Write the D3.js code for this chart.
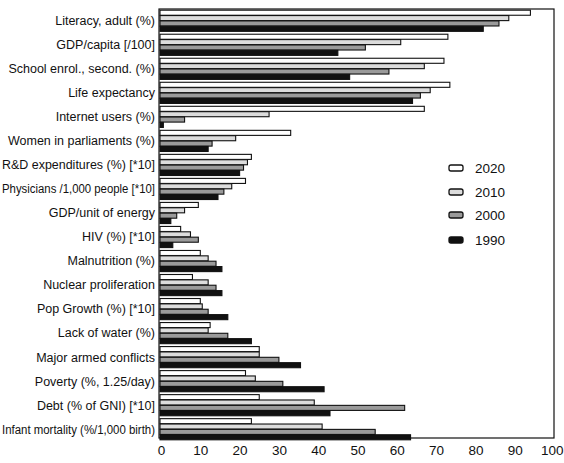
<!DOCTYPE html>
<html><head><meta charset="utf-8">
<script src="https://cdn.jsdelivr.net/npm/d3@7"></script>
<style>
html,body{margin:0;padding:0;background:#fff;}
svg{display:block;font-family:"Liberation Sans",Arial,sans-serif;}
</style></head>
<body><svg id="c" width="564" height="463"></svg>
<script>
const categories = ["Literacy, adult (%)","GDP/capita [/100]","School enrol., second. (%)","Life expectancy","Internet users (%)","Women in parliaments (%)","R&D expenditures (%) [*10]","Physicians /1,000 people [*10]","GDP/unit of energy","HIV (%) [*10]","Malnutrition (%)","Nuclear proliferation","Pop Growth (%) [*10]","Lack of water (%)","Major armed conflicts","Poverty (%, 1.25/day)","Debt (% of GNI) [*10]","Infant mortality (%/1,000 birth)"];
const seriesNames = ["2020","2010","2000","1990"];
const v2020 = [94,73,72,73.5,67,33,23,21.5,9.5,5,10,8,10,12.5,25,21.5,25,23];
const v2010 = [88.5,61,67,68.5,27.5,19,22,18,6,7.5,12,12,10.5,12,25,24,39,41];
const v2000 = [86,52,58,66,6,13,21,16,4,9.5,14,14,12,17,30,31,62,54.5];
const v1990 = [82,45,48,64,0.6,12,20,14.5,2.5,3,15.5,15.5,17,23,35.5,41.5,43,63.5];
const xTicks = [0,10,20,30,40,50,60,70,80,90,100];

const values = [v2020,v2010,v2000,v1990];
const fills = ["#ffffff","#dcdcdc","#9a9a9a","#111111"];

const svg = d3.select("#c");
const x = d3.scaleLinear().domain([0,100]).range([161,554]);
const y = d3.scaleBand().domain(categories).range([9,441]).paddingInner(0.12).paddingOuter(0.05);
const ys = d3.scaleBand().domain(seriesNames).range([0,y.bandwidth()]).paddingInner(0.06);

// frame
const frameTop = 9, frameBottom = 438;
svg.append("rect").attr("x",x(0)-2).attr("y",frameTop).attr("width",x(100)-x(0)+2).attr("height",frameBottom-frameTop)
  .attr("fill","none").attr("stroke","#111").attr("stroke-width",1.2);

// bars
categories.forEach((c,i)=>{
  seriesNames.forEach((s,j)=>{
    svg.append("rect")
      .attr("x",x(0)-1)
      .attr("y",y(c)+ys(s))
      .attr("width",Math.max(0,x(values[j][i])-x(0)+1))
      .attr("height",ys.bandwidth())
      .attr("fill",fills[j]).attr("stroke","#111").attr("stroke-width",1.1);
  });
});

// category labels
const labels = svg.append("g").selectAll("text").data(categories).join("text")
  .attr("x",155).attr("y",d=>y(d)+y.bandwidth()/2).attr("dy","0.35em")
  .attr("text-anchor","end").attr("font-size",12.5).attr("fill","#111").text(d=>d);
labels.each(function(){
  const w = this.getComputedTextLength();
  if (w > 153) d3.select(this).attr("textLength",153).attr("lengthAdjust","spacingAndGlyphs");
});

// x axis
const ax = svg.append("g").attr("transform",`translate(0,${frameBottom})`)
  .call(d3.axisBottom(x).tickValues(xTicks).tickSize(0).tickPadding(7).tickFormat(d3.format("d")));
ax.select(".domain").remove();
ax.selectAll("text").attr("font-size",13.5).attr("fill","#111").attr("font-family","Liberation Sans, Arial, sans-serif");
// keep last label inside the window
ax.selectAll(".tick").filter(d=>d===100).select("text").attr("text-anchor","end").attr("x",9);

// legend
const lg = svg.append("g");
seriesNames.forEach((s,j)=>{
  const yy = [168,192,215,240][j];
  lg.append("rect").attr("x",449).attr("y",yy-3).attr("width",14).attr("height",6)
    .attr("rx",2).attr("fill",fills[j]).attr("stroke","#111").attr("stroke-width",1.3);
  lg.append("text").attr("x",475).attr("y",yy).attr("dy","0.35em").attr("font-size",13.5).attr("fill","#111").text(s);
});
</script></body></html>
